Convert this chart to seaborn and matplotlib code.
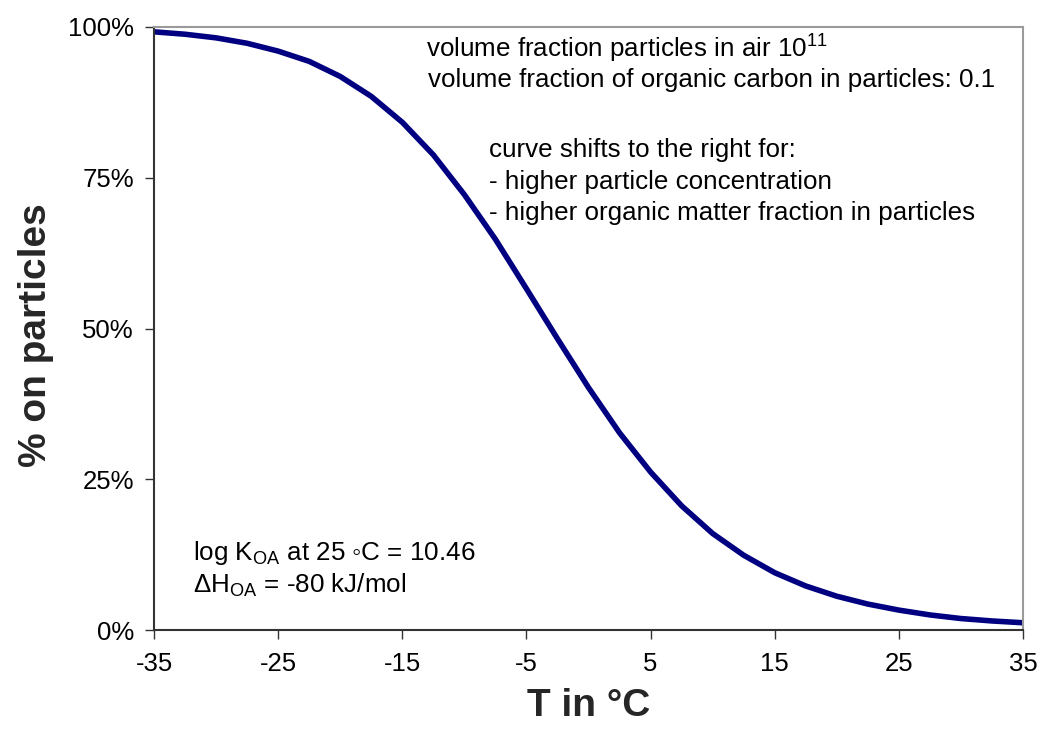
import matplotlib
matplotlib.use("Agg")
import matplotlib.pyplot as plt
import seaborn as sns
import pandas as pd

# ---- data ----
temperature_c = [-35, -32.5, -30, -27.5, -25, -22.5, -20, -17.5, -15, -12.5,
                 -10, -7.5, -5, -2.5, 0, 2.5, 5, 7.5, 10, 12.5,
                 15, 17.5, 20, 22.5, 25, 27.5, 30, 32.5, 35]
pct_on_particles = [99.2, 98.8, 98.2, 97.3, 96.0, 94.3, 91.8, 88.5, 84.2, 78.8,
                    72.2, 64.8, 56.6, 48.3, 40.2, 32.7, 26.2, 20.6, 16.0, 12.4,
                    9.5, 7.3, 5.6, 4.3, 3.3, 2.5, 1.9, 1.5, 1.2]
x_ticks = [-35, -25, -15, -5, 5, 15, 25, 35]
x_tick_labels = ["-35", "-25", "-15", "-5", "5", "15", "25", "35"]
y_ticks = [0, 25, 50, 75, 100]
y_tick_labels = ["0%", "25%", "50%", "75%", "100%"]

sns.set_style("white")
plt.rcParams["font.family"] = ["Liberation Sans", "DejaVu Sans"]
plt.rcParams["mathtext.fontset"] = "custom"
plt.rcParams["mathtext.rm"] = "Liberation Sans"
plt.rcParams["mathtext.it"] = "Liberation Sans:italic"
plt.rcParams["mathtext.bf"] = "Liberation Sans:bold"
plt.rcParams["axes.unicode_minus"] = False

df = pd.DataFrame({"T": temperature_c, "pct": pct_on_particles})

fig = plt.figure(figsize=(10.41, 7.32), dpi=100)
ax = fig.add_axes([154 / 1041, 1 - 630 / 732, (1023 - 154) / 1041, (630 - 27) / 732])

sns.lineplot(data=df, x="T", y="pct", ax=ax, color="#000080", linewidth=4.0)

ax.set_xlim(-35, 35)
ax.set_ylim(0, 100)
ax.set_xticks(x_ticks)
ax.set_xticklabels(x_tick_labels)
ax.set_yticks(y_ticks)
ax.set_yticklabels(y_tick_labels)
ax.set_xlabel("")
ax.set_ylabel("")
ax.tick_params(axis="both", direction="out", length=6.5, width=1.0, color="#333333",
               labelsize=18.5, labelcolor="black")
ax.tick_params(axis="x", pad=9.5)
ax.tick_params(axis="y", pad=8)
ax.tick_params(left=True, bottom=True)

for side in ["left", "bottom"]:
    ax.spines[side].set_color("#333333")
    ax.spines[side].set_linewidth(1.5)
for side in ["top", "right"]:
    ax.spines[side].set_color("#9a9a9a")
    ax.spines[side].set_linewidth(1.5)
ax.grid(False)

txt = dict(transform=ax.transAxes, fontsize=18.7, va="center", ha="left", color="black")
ax.text(0.3133, 0.9640, r"volume fraction particles in air 10$^{11}$", **txt)
ax.text(0.3153, 0.912, "volume fraction of organic carbon in particles: 0.1", **txt)
ax.text(0.3855, 0.796, "curve shifts to the right for:", **txt)
ax.text(0.3855, 0.743, "- higher particle concentration", **txt)
ax.text(0.3855, 0.6915, "- higher organic matter fraction in particles", **txt)
ax.text(0.0449, 0.1277, r"log K$_{\mathrm{OA}}$ at 25 ◦C = 10.46", **txt)
ax.text(0.0449, 0.0746, r"ΔH$_{\mathrm{OA}}$ = -80 kJ/mol", **txt)

fig.text(0.0346, 0.542, "% on particles", rotation=90, fontsize=28, fontweight="bold",
         ha="center", va="center")
fig.text(589 / 1041, 0.0356, "T in °C", fontsize=28, fontweight="bold",
         ha="center", va="center")

fig.savefig("out.png", dpi=100, facecolor="white")
